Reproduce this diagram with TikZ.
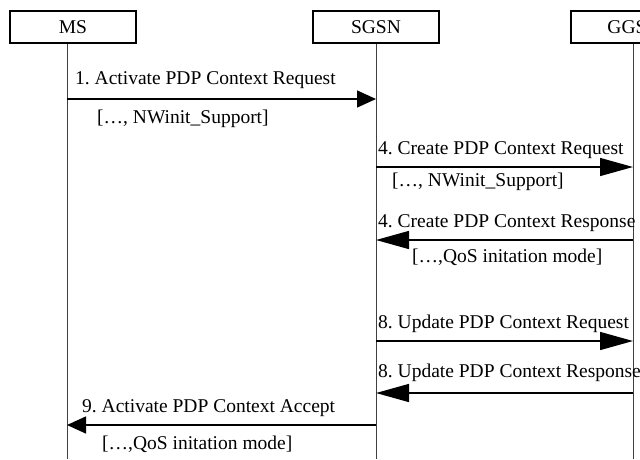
\documentclass[tikz,border=0pt]{standalone}
\usepackage{fontspec}
\setmainfont{Liberation Serif}
\usetikzlibrary{arrows.meta}
\frenchspacing
\tikzset{
    entity/.style = {draw, line width=1.1pt, minimum width=126pt,
                 minimum height=32pt, inner sep=0pt, font=\fontsize{19.5}{22}\selectfont},
    lifeline/.style = {draw=black!75, line width=0.9pt},
    msg/.style = {line width=1.4pt, -{Triangle[length=19pt,width=17pt]}},
    msglong/.style = {line width=1.4pt, -{Triangle[length=33pt,width=18pt]}},
    lbl/.style = {anchor=base west, inner sep=0pt, font=\fontsize{19.5}{22}\selectfont},
}

\begin{document}
\begin{tikzpicture}[x=1pt,y=-1pt]
 \useasboundingbox (0,0) rectangle (640,459);
 \clip (0,0) rectangle (640,459);
 \node (ms)   [entity] at (73,27)  {MS};
 \node (sgsn) [entity] at (376,27) {SGSN};
 \node (ggsn) [entity] at (634,27) {GGSN};

 \coordinate (msbot)   at (67,459);
 \coordinate (sgsnbot) at (376,459);
 \coordinate (ggsnbot) at (633,459);
 \draw[lifeline] (ms.south -| msbot) -- (msbot);
 \draw[lifeline] (sgsn.south -| sgsnbot) -- (sgsnbot);
 \draw[lifeline] (ggsn.south -| ggsnbot) -- (ggsnbot);

 % message end points on the lifelines
 \coordinate (ms1)   at (67,99);
 \coordinate (sgsn1) at (376,99);
 \coordinate (sgsn4) at (376,167);
 \coordinate (ggsn4) at (633,167);
 \coordinate (sgsn4r) at (376,240);
 \coordinate (ggsn4r) at (633,240);
 \coordinate (sgsn8) at (376,341);
 \coordinate (ggsn8) at (633,341);
 \coordinate (sgsn8r) at (376,393);
 \coordinate (ggsn8r) at (633,393);
 \coordinate (sgsn9) at (376,425);
 \coordinate (ms9)   at (67,425);

 \node (actreq)  [lbl] at (75,84)   {1. Activate PDP Context Request};
 \node (actpar)  [lbl] at (97,123)  {[…, NWinit\_Support]};
 \node (crreq)   [lbl] at (378,154) {4. Create PDP Context Request};
 \node (crpar)   [lbl] at (392,186) {[…, NWinit\_Support]};
 \node (crresp)  [lbl] at (378,227) {4. Create PDP Context Response};
 \node (crrpar)  [lbl] at (412,262) {[…,QoS initation mode]};
 \node (upreq)   [lbl] at (378,328) {8. Update PDP Context Request};
 \node (upresp)  [lbl] at (378,377) {8. Update PDP Context Response};
 \node (actacc)  [lbl] at (82,412)  {9. Activate PDP Context Accept};
 \node (accpar)  [lbl] at (102,449) {[…,QoS initation mode]};

\draw[msg] (ms1) to (sgsn1);
\draw[msglong] (sgsn4) to (ggsn4);
\draw[msglong] (ggsn4r) to (sgsn4r);
\draw[msglong] (sgsn8) to (ggsn8);
\draw[msglong] (ggsn8r) to (sgsn8r);
\draw[msg] (sgsn9) to (ms9);
\end{tikzpicture}
\end{document}
